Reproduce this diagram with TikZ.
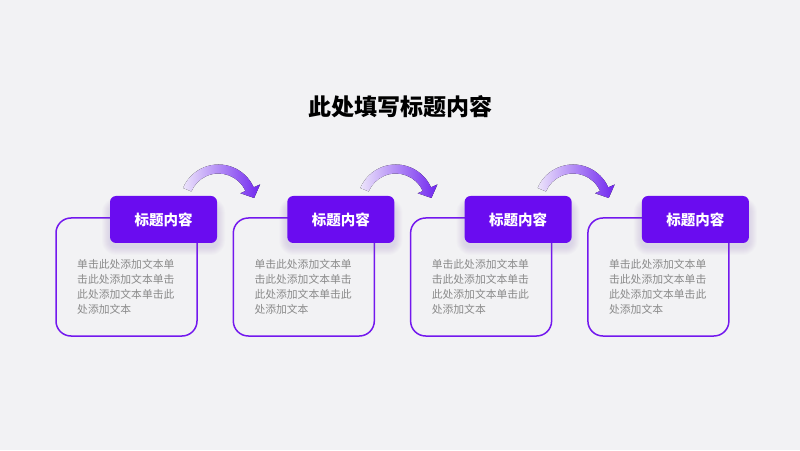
\documentclass[tikz,border=0pt]{standalone}
\usepackage{fontspec}
\newfontfamily\cjk{Noto Sans CJK SC}
\definecolor{pagebg}{HTML}{F2F2F4}
\definecolor{violetmain}{HTML}{6A0CF0}
\definecolor{violetline}{HTML}{7318EE}
\definecolor{violetpale}{HTML}{ECE4FB}
\definecolor{violetarrow}{HTML}{7026EF}
\definecolor{violetshade}{HTML}{8060C0}
\definecolor{bodygray}{HTML}{8A8A8A}
\begin{document}
\begin{tikzpicture}[x=1pt,y=1pt,
    headbox/.style={fill=violetmain,rounded corners=6pt,minimum width=107pt,minimum height=47pt,
      text=white,font=\cjk\bfseries\fontsize{14.5}{16}\selectfont,inner sep=0pt},
    bodybox/.style={draw=violetline,line width=1.5pt,rounded corners=15pt,minimum width=141pt,minimum height=118pt,inner sep=0pt},
    bodytext/.style={text=bodygray,font=\cjk\fontsize{10.8}{15}\selectfont,align=left,inner sep=0pt,anchor=north west}]
  \fill[pagebg] (0,0) rectangle (800,450);
  \useasboundingbox (0,0) rectangle (800,450);
  \node[font=\cjk\bfseries\fontsize{23}{26}\selectfont,text=black] (title) at (400,343) {此处填写标题内容};
  \foreach \i in {0,...,3}{
    \node[bodybox] (body\i) at (126.5+177.3*\i,173) {};
    % soft shadow under the header
    \foreach \s in {1,...,8}
      \fill[violetshade,opacity=0.025,rounded corners=6pt+\s pt]
        (110+177.3*\i-\s,203-\s) rectangle (217+177.3*\i+\s,250+\s-6);
    \node[headbox] (head\i) at (163.5+177.3*\i,230.5) {标题内容};
    \node[bodytext] (text\i) at (77+177.3*\i,190.5) {单击此处添加文本单\\击此处添加文本单击\\此处添加文本单击此\\处添加文本};
  }
  % arrows between the steps
  \foreach \i in {0,1,2}{
    \begin{scope}[shift={(218.5+177.3*\i,247)}]
      \fill[left color=violetpale,right color=violetarrow]
        (157:38.5) arc[start angle=157,end angle=24,radius=38.5]
        -- (24:45.5) -- (8:36) -- (24:24) -- (24:29.5)
        arc[start angle=24,end angle=157,radius=29.5] -- cycle;
    \end{scope}
  }
\end{tikzpicture}
\end{document}
